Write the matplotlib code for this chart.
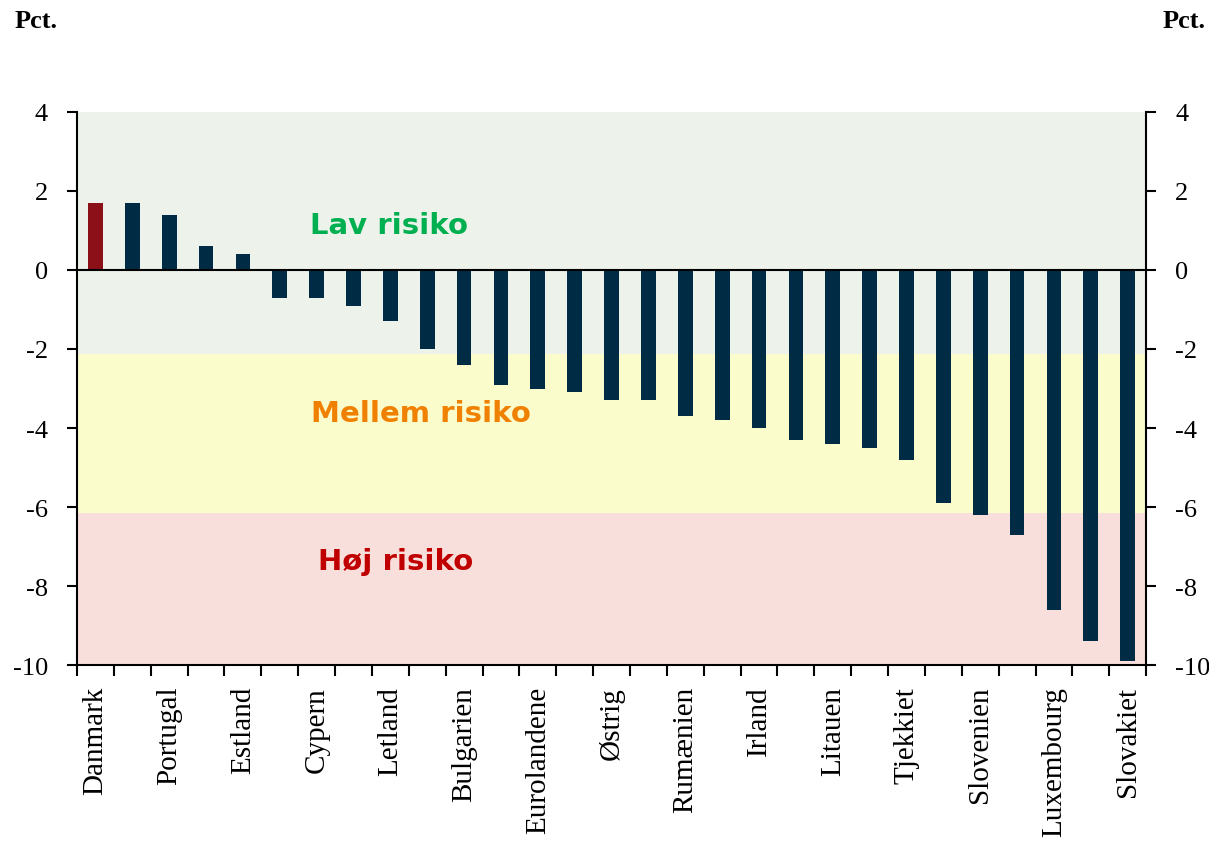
import numpy as np
import matplotlib.pyplot as plt
plt.rcParams['axes.unicode_minus'] = False

# every other country is labelled in the original chart
labels = ['Danmark', '', 'Portugal', '', 'Estland', '', 'Cypern', '', 'Letland', '',
          'Bulgarien', '', 'Eurolandene', '', 'Østrig', '', 'Rumænien', '', 'Irland', '',
          'Litauen', '', 'Tjekkiet', '', 'Slovenien', '', 'Luxembourg', '', 'Slovakiet']
values = [1.7, 1.7, 1.4, 0.6, 0.4, -0.7, -0.7, -0.9, -1.3, -2.0,
          -2.4, -2.9, -3.0, -3.1, -3.3, -3.3, -3.7, -3.8, -4.0, -4.3,
          -4.4, -4.5, -4.8, -5.9, -6.2, -6.7, -8.6, -9.4, -9.9]
highlight = 'Danmark'

# risk zones: (lower, upper, name)
zones = [(-2.13, 4.08, 'Lav risiko'), (-6.14, -2.13, 'Mellem risiko'), (-10, -6.14, 'Høj risiko')]
zone_fill = ['#edf3eb', '#fafccb', '#f8dfdc']
zone_text = ['#00b050', '#f08000', '#c00000']
zone_label_y = [1.14, -3.62, -7.37]
zone_label_x = [7.95, 8.82, 8.15]

serif = 'Liberation Serif'

fig = plt.figure(figsize=(12.09, 8.45), dpi=100)
ax = fig.add_axes([0.0637, 0.2118, 0.948 - 0.0637, 0.6545])

x = np.arange(len(values))
for (lo, hi, name), fc, tc, ly, lx in zip(zones, zone_fill, zone_text, zone_label_y, zone_label_x):
    ax.axhspan(lo, hi, color=fc, zorder=0, lw=0)
    ax.text(lx, ly, name, color=tc, fontsize=21, fontweight='bold',
            ha='center', va='center', family='DejaVu Sans', zorder=3)

colors = ['#8b1018' if l == highlight else '#002b45' for l in labels]
ax.bar(x, values, width=0.4, color=colors, zorder=2)
ax.axhline(0, color='black', lw=1.5, zorder=2.5)

ax.set_xlim(-0.5, len(values) - 0.5)
ax.set_ylim(-10, 4)

ax.set_yticks(np.arange(-10, 5, 2))
ax.tick_params(axis='y', which='both', direction='out', length=7, width=1.5,
               labelsize=19, left=True, right=True, labelleft=True, labelright=True, pad=14)
for lab in ax.get_yticklabels():
    lab.set_family(serif)

shown = [i for i, l in enumerate(labels) if l]
ax.set_xticks(shown)
ax.set_xticklabels([labels[i] for i in shown], rotation=90, family=serif, fontsize=21)
ax.set_xticks(np.arange(-0.5, len(values), 1), minor=True)
ax.tick_params(axis='x', which='major', length=0, pad=15)
ax.tick_params(axis='x', which='minor', direction='out', length=8, width=1.5)

ax.spines['top'].set_visible(False)
for s in ['left', 'right', 'bottom']:
    ax.spines[s].set_linewidth(1.5)

fig.text(0.012, 0.974, 'Pct.', fontsize=19, fontweight='bold', family=serif, ha='left', va='center')
fig.text(0.997, 0.974, 'Pct.', fontsize=19, fontweight='bold', family=serif, ha='right', va='center')

fig.savefig('out.png', dpi=100)
